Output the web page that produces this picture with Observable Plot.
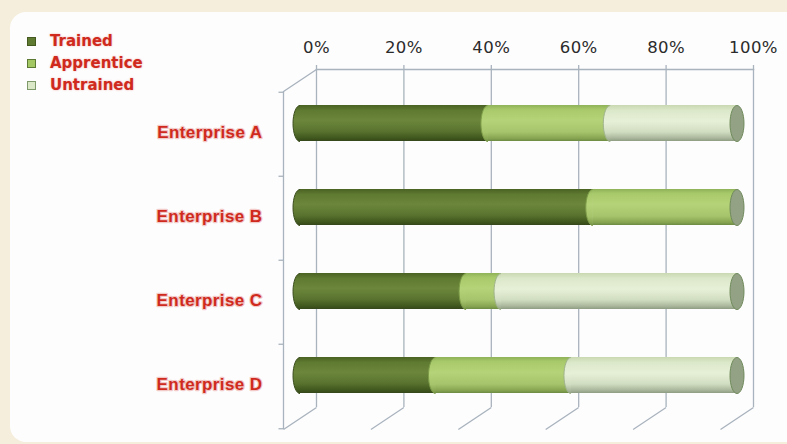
<!DOCTYPE html>
<html>
<head>
<meta charset="utf-8">
<script src="https://cdn.jsdelivr.net/npm/d3@7"></script>
<script src="https://cdn.jsdelivr.net/npm/@observablehq/plot@0.6"></script>
<style>
  html, body { margin: 0; padding: 0; width: 787px; height: 444px; overflow: hidden; background: #f5eedc; }
  #panel { position: absolute; left: 10px; top: 12px; width: 800px; height: 430px; background: #fdfdfe; border-radius: 16px; }
  #chart { position: absolute; left: 0; top: 0; }
  #legend { position: absolute; left: 27px; top: 30px; font-family: "DejaVu Sans", sans-serif; font-weight: bold; font-size: 15px; color: #cf2a1d; }
  .row { height: 22px; display: flex; align-items: center; }
  .sw { width: 7px; height: 7px; border: 1px solid; margin-right: 14px; }
  .lbl { text-shadow: 0 0 2px rgba(220,60,40,0.45); }
  #chart text { letter-spacing: 0.4px; }
</style>
</head>
<body>
<div id="panel"></div>
<svg width="0" height="0" style="position:absolute">
  <defs>
    <linearGradient id="g-Trained" x1="0" y1="0" x2="0" y2="1">
      <stop offset="0" stop-color="#4a6223"/>
      <stop offset="0.15" stop-color="#5f7a31"/>
      <stop offset="0.42" stop-color="#6c873b"/>
      <stop offset="0.72" stop-color="#5a7430"/>
      <stop offset="0.9" stop-color="#425a1f"/>
      <stop offset="1" stop-color="#34471a"/>
    </linearGradient>
    <linearGradient id="g-Apprentice" x1="0" y1="0" x2="0" y2="1">
      <stop offset="0" stop-color="#8fb158"/>
      <stop offset="0.12" stop-color="#a8c96a"/>
      <stop offset="0.42" stop-color="#b5d378"/>
      <stop offset="0.75" stop-color="#a6c46b"/>
      <stop offset="0.92" stop-color="#88a652"/>
      <stop offset="1" stop-color="#6e8c43"/>
    </linearGradient>
    <linearGradient id="g-Untrained" x1="0" y1="0" x2="0" y2="1">
      <stop offset="0" stop-color="#c9d9b1"/>
      <stop offset="0.15" stop-color="#dce8ca"/>
      <stop offset="0.45" stop-color="#e6f0d7"/>
      <stop offset="0.75" stop-color="#d1ddc1"/>
      <stop offset="0.92" stop-color="#a9b69b"/>
      <stop offset="1" stop-color="#8e9d81"/>
    </linearGradient>
  </defs>
</svg>
<div id="chart"></div>
<div id="legend"></div>
<script>
// ---- data ----
const categories = ["Enterprise A", "Enterprise B", "Enterprise C", "Enterprise D"];
const series = ["Trained", "Apprentice", "Untrained"];
const trained    = [43, 67, 38, 31];
const apprentice = [28, 33,  8, 31];
const untrained  = [29,  0, 54, 38];
const ticks = [0, 20, 40, 60, 80, 100];

// ---- styles ----
const swatch = { Trained: ["#5f7a31", "#44591f"], Apprentice: ["#a3c763", "#5d7a35"], Untrained: ["#dbe8c8", "#7f9a6a"] };
const edge = { Trained: "#3a4d1c", Apprentice: "#7c9c48", Untrained: "#9fb38b" };
const gridColor = "#a9b3bd";
const red = "#cf2a1d";

const table = [];
categories.forEach((c, i) => {
  [trained[i], apprentice[i], untrained[i]].forEach((v, j) => table.push({ cat: c, series: series[j], value: v }));
});
const nonzero = table.filter(d => d.value > 0);

// 3D offsets: depth shift of front plane (px)
const depthX = -33, depthY = 22;
const midX = depthX / 2, midY = depthY / 2;
const rx = 7, ry = 18;
const k = 0.5523;

const leftHalf = { draw(ctx) {
  ctx.moveTo(0, -ry);
  ctx.bezierCurveTo(-k * rx, -ry, -rx, -k * ry, -rx, 0);
  ctx.bezierCurveTo(-rx, k * ry, -k * rx, ry, 0, ry);
}};
const fullEllipse = { draw(ctx) {
  ctx.moveTo(0, -ry);
  ctx.bezierCurveTo(-k * rx, -ry, -rx, -k * ry, -rx, 0);
  ctx.bezierCurveTo(-rx, k * ry, -k * rx, ry, 0, ry);
  ctx.bezierCurveTo(k * rx, ry, rx, k * ry, rx, 0);
  ctx.bezierCurveTo(rx, -k * ry, k * rx, -ry, 0, -ry);
  ctx.closePath();
}};
const diag = { draw(ctx) { ctx.moveTo(0, 0); ctx.lineTo(depthX, depthY); } };
const hTick = { draw(ctx) { ctx.moveTo(-5, 0); ctx.lineTo(0, 0); } };

const mTop = 69, mBottom = 37;
const bw = (444 - mTop - mBottom) / 4;

const plot = Plot.plot({
  width: 787,
  height: 444,
  marginTop: mTop,
  marginBottom: mBottom,
  marginLeft: 316,
  marginRight: 34,
  style: { background: "transparent", fontFamily: "DejaVu Sans, sans-serif" },
  x: { domain: [0, 100] },
  y: { domain: categories, paddingInner: 0.574, paddingOuter: 0.287, axis: null },
  color: { type: "identity" },
  marks: [
    Plot.gridX(ticks, { stroke: gridColor, strokeOpacity: 1, strokeWidth: 1.3 }),
    Plot.frame({ anchor: "top", stroke: gridColor, strokeWidth: 1.3 }),
    Plot.axisX({ anchor: "top", ticks, tickFormat: d => d + "%", tickSize: 5, tickPadding: 12, label: null, stroke: gridColor, strokeWidth: 1.3, fill: "#2b2b2b", fontSize: 16.5 }),
    // floor diagonals
    Plot.dot(ticks, { x: d => d, frameAnchor: "bottom", symbol: diag, stroke: gridColor, strokeWidth: 1.3, fill: "none" }),
    // left wall
    Plot.dot([0], { x: d => d, frameAnchor: "top", symbol: diag, stroke: gridColor, strokeWidth: 1.3, fill: "none" }),
    Plot.ruleX([0], { dx: depthX, dy: depthY, stroke: gridColor, strokeWidth: 1.3 }),
    Plot.dot(categories, { x: () => 0, y: d => d, dx: depthX, dy: depthY - bw / 2, symbol: hTick, stroke: gridColor, strokeWidth: 1.3, fill: "none" }),
    Plot.dot(categories.slice(-1), { x: () => 0, y: d => d, dx: depthX, dy: depthY + bw / 2, symbol: hTick, stroke: gridColor, strokeWidth: 1.3, fill: "none" }),
    // cylinder bodies
    Plot.barX(nonzero, Plot.stackX({ x: "value", y: "cat", fill: d => `url(#g-${d.series})`, dx: midX, dy: midY, order: null })),
    // rounded left ends of each segment
    Plot.dot(nonzero, Plot.stackX1({ x: "value", y: "cat", fill: d => `url(#g-${d.series})`, stroke: d => edge[d.series], strokeWidth: 1, symbol: leftHalf, dx: midX, dy: midY, order: null })),
    // end caps
    Plot.dot(categories, { x: () => 100, y: d => d, symbol: fullEllipse, fill: "#93a184", stroke: "#6f8a5b", strokeWidth: 1, dx: midX, dy: midY }),
    // category labels
    Plot.text(categories, { x: () => 0, y: d => d, text: d => d, textAnchor: "end", dx: -54, dy: 20, fill: red, fontWeight: "bold", fontSize: 17, fontFamily: "Liberation Sans, Arial, sans-serif", stroke: "rgba(210,50,35,0.25)", strokeWidth: 2.5, style: "letter-spacing:-0.4px" })
  ]
});
document.getElementById("chart").append(plot);

// legend
const legend = d3.select("#legend");
series.forEach(s => {
  const row = legend.append("div").attr("class", "row");
  row.append("div").attr("class", "sw").style("background", swatch[s][0]).style("border-color", swatch[s][1]);
  row.append("span").attr("class", "lbl").text(s);
});
</script>
</body>
</html>
